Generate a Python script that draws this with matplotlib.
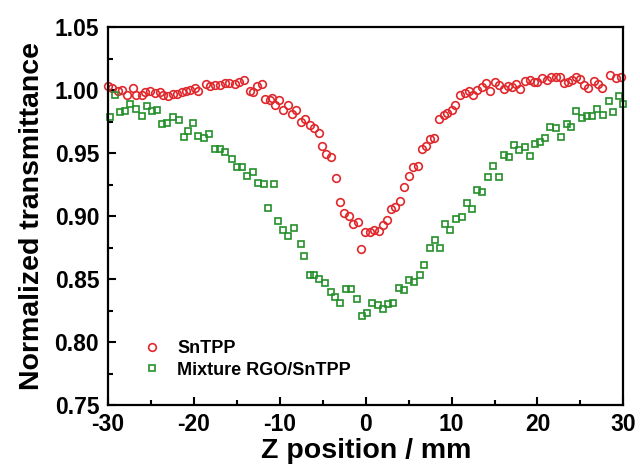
import matplotlib
matplotlib.use("Agg")
from matplotlib import pyplot as plt
from matplotlib.ticker import MultipleLocator, FormatStrFormatter

# SnTPP (red circles)
sn_z = [-30.0, -29.6, -28.9, -28.4, -27.8, -27.1, -26.7, -26.1, -25.7, -25.1,
        -24.5, -24.0, -23.6, -23.0, -22.4, -22.0, -21.4, -20.9, -20.5, -19.9,
        -19.5, -18.6, -18.1, -17.5, -17.0, -16.4, -15.9, -15.2, -14.8, -14.2,
        -13.5, -13.1, -12.7, -12.1, -11.7, -11.2, -10.9, -10.55, -10.05, -9.58,
        -9.11, -8.6, -8.1, -7.55, -7.05, -6.55, -6.08, -5.5, -5.1, -4.6,
        -4.06, -3.52, -3.05, -2.58, -2.0, -1.53, -0.95, -0.6, -0.06, 0.45,
        0.99, 1.5, 2.0, 2.47, 2.93, 3.44, 3.94, 4.49, 4.99, 5.5,
        6.04, 6.55, 7.05, 7.52, 7.98, 8.5, 9.07, 9.5, 10.0, 10.4,
        11.0, 11.6, 12.0, 12.5, 13.0, 13.5, 14.0, 14.5, 15.0, 15.5,
        16.1, 16.6, 17.0, 17.5, 18.0, 18.6, 19.1, 19.6, 20.0, 20.5,
        21.1, 21.6, 22.1, 22.6, 23.1, 23.5, 24.0, 24.5, 25.0, 25.4,
        25.9, 26.6, 27.0, 27.5, 28.5, 29.1, 29.7]
sn_t = [1.003, 1.002, 0.9995, 1.0003, 0.9963, 1.0015, 0.9963, 0.9963, 0.9984, 0.9995,
        0.9976, 0.9984, 0.9963, 0.9955, 0.9968, 0.997, 0.9982, 0.999, 1.0003, 1.0016,
        0.9995, 1.0047, 1.0029, 1.0037, 1.0042, 1.0055, 1.006, 1.0047, 1.0063, 1.0081,
        0.9995, 0.9982, 1.0029, 1.0047, 0.9929, 0.9924, 0.994, 0.9885, 0.992, 0.9838,
        0.9885, 0.981, 0.9845, 0.975, 0.977, 0.972, 0.970, 0.966, 0.956, 0.949,
        0.947, 0.930, 0.911, 0.9026, 0.900, 0.894, 0.8955, 0.874, 0.8877, 0.887,
        0.889, 0.8884, 0.893, 0.8968, 0.906, 0.907, 0.912, 0.923, 0.932, 0.9387,
        0.940, 0.953, 0.9557, 0.961, 0.962, 0.9767, 0.9806, 0.9819, 0.9838, 0.9885,
        0.9963, 0.9976, 0.9995, 0.9963, 1.0003, 1.0021, 1.0055, 0.9995, 1.0063, 1.0037,
        1.0011, 1.0029, 1.0021, 1.0047, 1.0011, 1.0073, 1.0081, 1.0068, 1.0063, 1.0094,
        1.0081, 1.010, 1.0107, 1.010, 1.0055, 1.0068, 1.0081, 1.010, 1.009, 1.0037,
        1.0016, 1.0073, 1.0047, 1.0016, 1.012, 1.0094, 1.0107]

# Mixture RGO/SnTPP (green squares)
mix_z = [-29.8, -29.2, -28.6, -28.0, -27.4, -26.7, -26.1, -25.5, -24.9, -24.3,
         -23.75, -23.1, -22.5, -21.8, -21.2, -20.65, -20.1, -19.5, -18.8, -18.2,
         -17.5, -16.95, -16.4, -15.6, -15.0, -14.4, -13.85, -13.15, -12.6, -11.9,
         -11.4, -10.7, -10.2, -9.6, -9.0, -8.4, -7.6, -7.2, -6.55, -6.0,
         -5.4, -4.7, -4.1, -3.55, -3.0, -2.3, -1.7, -1.03, -0.45, 0.14,
         0.72, 1.38, 2.0, 2.54, 3.17, 3.83, 4.4, 5.0, 5.65, 6.27,
         6.8, 7.5, 8.1, 8.68, 9.27, 9.85, 10.55, 11.2, 11.8, 12.4,
         12.96, 13.5, 14.2, 14.8, 15.5, 16.1, 16.7, 17.3, 17.9, 18.5,
         19.1, 19.75, 20.3, 20.9, 21.5, 22.1, 22.75, 23.4, 23.95, 24.5,
         25.2, 25.8, 26.4, 26.95, 27.65, 28.3, 28.8, 29.46, 30.0]
mix_t = [0.979, 0.9963, 0.9827, 0.9832, 0.989, 0.9853, 0.9793, 0.9877, 0.9832, 0.9845,
         0.9733, 0.974, 0.9785, 0.9759, 0.9628, 0.9675, 0.974, 0.9636, 0.9618, 0.9649,
         0.9531, 0.9531, 0.9505, 0.9453, 0.9392, 0.9392, 0.9322, 0.9348, 0.9261, 0.9256,
         0.9068, 0.9256, 0.8963, 0.889, 0.8842, 0.8903, 0.878, 0.868, 0.8536, 0.8536,
         0.8497, 0.8465, 0.8397, 0.8361, 0.8314, 0.8418, 0.8418, 0.834, 0.8209, 0.823,
         0.8314, 0.8293, 0.826, 0.830, 0.8308, 0.8432, 0.8413, 0.8491, 0.8476, 0.8536,
         0.8615, 0.8746, 0.8811, 0.8746, 0.8937, 0.889, 0.898, 0.899, 0.91, 0.906,
         0.9204, 0.919, 0.9314, 0.94, 0.9309, 0.9487, 0.9471, 0.9565, 0.9524, 0.955,
         0.9479, 0.9571, 0.9584, 0.9623, 0.9707, 0.9696, 0.9628, 0.9728, 0.9707, 0.9832,
         0.978, 0.9793, 0.9793, 0.9853, 0.9801, 0.9916, 0.9827, 0.9955, 0.989]

plt.rcParams['font.family'] = ['Liberation Sans', 'DejaVu Sans']
plt.rcParams['font.weight'] = 'bold'
plt.rcParams['axes.unicode_minus'] = False

fig = plt.figure(figsize=(6.4, 4.71), dpi=100)
ax = fig.add_axes([0.169, 0.140, 0.805, 0.8025])

ax.plot(sn_z, sn_t, 'o', ls='none', ms=5.5, mfc='none', mec='#e0282c', mew=1.2,
        label='SnTPP', clip_on=False)
ax.plot(mix_z, mix_t, 's', ls='none', ms=4.2, mfc='none', mec='#24902a', mew=1.2,
        label='Mixture RGO/SnTPP', clip_on=False)

ax.set_xlim(-30, 30)
ax.set_ylim(0.75, 1.05)
ax.xaxis.set_major_locator(MultipleLocator(10))
ax.xaxis.set_minor_locator(MultipleLocator(5))
ax.yaxis.set_major_locator(MultipleLocator(0.05))
ax.yaxis.set_minor_locator(MultipleLocator(0.025))
ax.yaxis.set_major_formatter(FormatStrFormatter('%.2f'))
ax.tick_params(which='major', direction='in', length=6, width=1.5, labelsize=16.5)
ax.tick_params(axis='x', which='major', pad=5.5)
ax.tick_params(axis='y', which='major', pad=6.5)
ax.tick_params(which='minor', direction='in', length=3.5, width=1.5)
for s in ax.spines.values():
    s.set_linewidth(1.6)

ax.set_xlabel('Z position / mm', fontsize=20.5, fontweight='bold', labelpad=2)
ax.set_ylabel('Normalized transmittance', fontsize=20.5, fontweight='bold', labelpad=7)

ax.legend(loc='upper left', bbox_to_anchor=(0.068, 0.172), frameon=False,
          prop={'size': 13, 'weight': 'bold'}, handlelength=1.0, handletextpad=0.9,
          labelspacing=0.25, borderpad=0, borderaxespad=0)

fig.savefig('out.png', dpi=100)
